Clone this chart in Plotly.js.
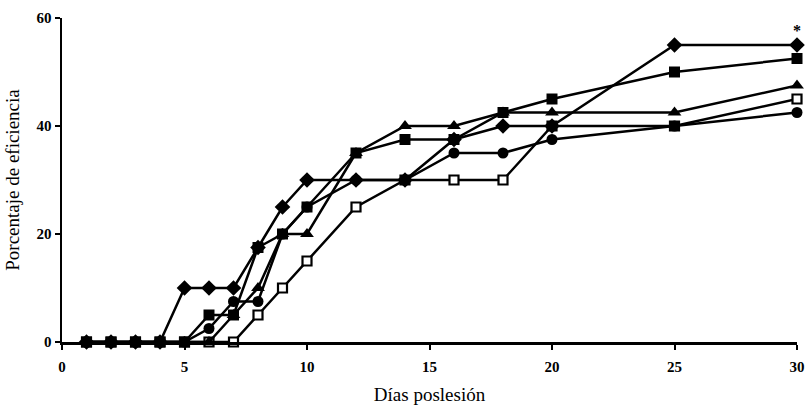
<!DOCTYPE html>
<html>
<head>
<meta charset="utf-8">
<script src="https://cdn.plot.ly/plotly-3.0.1.min.js"></script>
<style>html,body{margin:0;padding:0;background:#fff;}#chart{width:807px;height:411px;}</style>
</head>
<body>
<div id="chart"></div>
<script>
var days = [1, 2, 3, 4, 5, 6, 7, 8, 9, 10, 12, 14, 16, 18, 20, 25, 30];
var diamondVals  = [0, 0, 0, 0, 10, 10, 10, 17.5, 25, 30, 30, 30, 37.5, 40, 40, 55, 55];
var squareVals   = [0, 0, 0, 0, 0, 5, 5, 17.5, 20, 25, 35, 37.5, 37.5, 42.5, 45, 50, 52.5];
var triangleVals = [0, 0, 0, 0, 0, 0, 5, 10, 20, 20, 35, 40, 40, 42.5, 42.5, 42.5, 47.5];
var circleVals   = [0, 0, 0, 0, 0, 2.5, 7.5, 7.5, 20, 25, 30, 30, 35, 35, 37.5, 40, 42.5];
var openSqVals   = [0, 0, 0, 0, 0, 0, 0, 5, 10, 15, 25, 30, 30, 30, 40, 40, 45];
var xTicks = [0, 5, 10, 15, 20, 25, 30];
var yTicks = [0, 20, 40, 60];

var serif = 'Liberation Serif, Times New Roman, serif';
function tr(y, sym, size, fill, lw) {
  return {
    x: days, y: y, type: 'scatter', mode: 'lines+markers', cliponaxis: false,
    line: {color: '#000000', width: 2.5},
    marker: {symbol: sym, size: size, color: fill,
             line: {color: '#000000', width: lw}},
    showlegend: false, hoverinfo: 'skip'
  };
}
var data = [
  tr(openSqVals, 'square', 9, '#ffffff', 2.2),
  tr(circleVals, 'circle', 11, '#000000', 0),
  tr(triangleVals, 'triangle-up', 12, '#000000', 0),
  tr(squareVals, 'square', 11, '#000000', 0),
  tr(diamondVals, 'diamond', 12, '#000000', 0)
];
var layout = {
  width: 807, height: 411,
  margin: {l: 62, r: 10, t: 18, b: 69},
  paper_bgcolor: '#ffffff', plot_bgcolor: '#ffffff',
  font: {family: serif, color: '#000000'},
  xaxis: {
    range: [0, 30], tickvals: xTicks, ticktext: xTicks.map(String),
    showline: true, linewidth: 2.5, linecolor: '#000000', mirror: false,
    ticks: 'outside', ticklen: 5, tickwidth: 2, tickcolor: '#000000',
    ticklabelstandoff: 4,
    showgrid: false, zeroline: false,
    tickfont: {family: serif, size: 15, weight: 'bold', color: '#000000'},
    title: {text: 'Días poslesión', font: {family: serif, size: 19, color: '#000000'}, standoff: 14}
  },
  yaxis: {
    range: [0, 60], tickvals: yTicks, ticktext: yTicks.map(String),
    showline: true, linewidth: 2.5, linecolor: '#000000',
    ticks: 'outside', ticklen: 5, tickwidth: 2, tickcolor: '#000000',
    showgrid: false, zeroline: false,
    tickfont: {family: serif, size: 15, weight: 'bold', color: '#000000'},
    title: {text: 'Porcentaje de eficiencia', font: {family: serif, size: 19, color: '#000000'}, standoff: 12}
  },
  annotations: [{x: 30, y: 55, xref: 'x', yref: 'y', text: '*', showarrow: false, yshift: 15,
                 font: {family: serif, size: 16, weight: 'bold', color: '#000000'}}]
};
Plotly.newPlot('chart', data, layout, {staticPlot: true, displayModeBar: false});
</script>
</body>
</html>
